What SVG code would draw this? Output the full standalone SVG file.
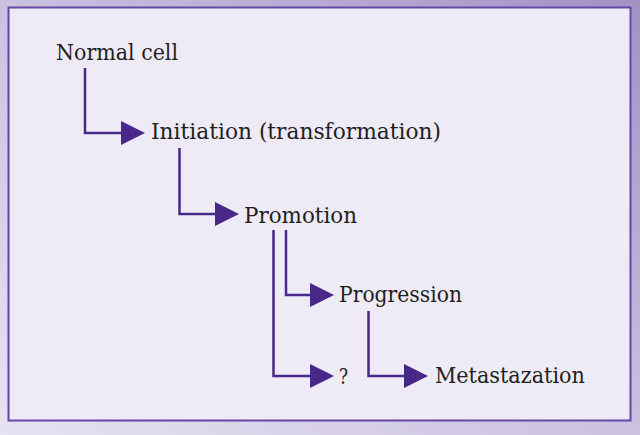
<svg xmlns="http://www.w3.org/2000/svg" width="640" height="435" viewBox="0 0 640 435">
  <defs>
    <linearGradient id="bg" x1="0" y1="1" x2="1" y2="0">
      <stop offset="0" stop-color="#e6e3f2"/>
      <stop offset="0.5" stop-color="#cbc1e0"/>
      <stop offset="1" stop-color="#a291c5"/>
    </linearGradient>
    <style>
      .lbl { font-family: "DejaVu Serif", "Liberation Serif", serif; font-size: 23px; fill: #231f20; }
      .ln { fill: none; stroke: #48298a; stroke-width: 2.5; }
      .hd { fill: #48298a; }
    </style>
  </defs>
  <rect x="0" y="0" width="640" height="435" fill="url(#bg)"/>
  <rect x="8.5" y="7.5" width="622" height="413" fill="#eeebf6" stroke="#6547a6" stroke-width="2"/>

  <g id="connectors">
    <path class="ln" d="M85 68 V133 H122"/>
    <polygon class="hd" points="121,121 145,133 121,145"/>
    <path class="ln" d="M179.5 148 V214 H216"/>
    <polygon class="hd" points="215,202 239,214 215,226"/>
    <path class="ln" d="M286 230 V295 H311"/>
    <polygon class="hd" points="310,283 334,295 310,307"/>
    <path class="ln" d="M273.5 230 V376 H311"/>
    <polygon class="hd" points="310,364 334,376 310,388"/>
    <path class="ln" d="M368.5 311 V376 H405"/>
    <polygon class="hd" points="404,364 428,376 404,388"/>
  </g>

  <g id="normal-cell"><text class="lbl" x="56" y="60" textLength="122" lengthAdjust="spacingAndGlyphs">Normal cell</text></g>
  <g id="initiation"><text class="lbl" x="151" y="139" textLength="290" lengthAdjust="spacingAndGlyphs">Initiation (transformation)</text></g>
  <g id="promotion"><text class="lbl" x="244" y="223" textLength="113" lengthAdjust="spacingAndGlyphs">Promotion</text></g>
  <g id="progression"><text class="lbl" x="339" y="302" textLength="123" lengthAdjust="spacingAndGlyphs">Progression</text></g>
  <g id="unknown"><text class="lbl" x="339" y="384" textLength="9" lengthAdjust="spacingAndGlyphs">?</text></g>
  <g id="metastazation"><text class="lbl" x="435" y="383" textLength="150" lengthAdjust="spacingAndGlyphs">Metastazation</text></g>
</svg>
